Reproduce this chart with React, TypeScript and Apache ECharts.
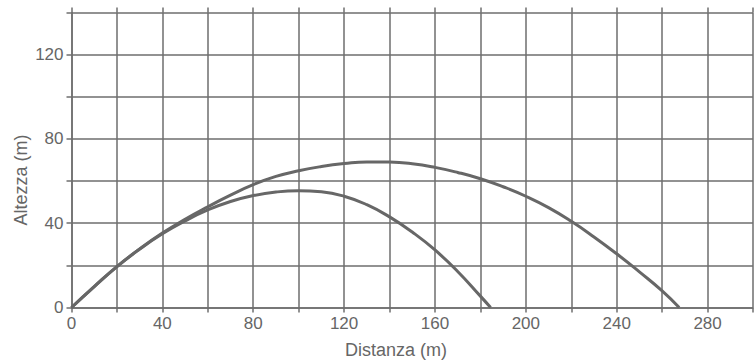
import React, { useEffect, useRef } from "react";
import * as echarts from "echarts";

// Traiettoria corta
const distanzaA = [0, 10, 20, 30, 40, 50, 60, 70, 80, 90, 100, 110, 120, 130, 140, 150, 160, 170, 180, 184.5];
const altezzaA = [0, 9.9, 19.4, 27.7, 35.0, 41.1, 46.3, 50.3, 53.1, 54.8, 55.4, 54.9, 52.8, 48.8, 43.0, 35.8, 27.3, 17.1, 5.4, 0];

// Traiettoria lunga
const distanzaB = [0, 10, 20, 30, 40, 50, 60, 70, 80, 90, 100, 110, 120, 130, 140, 150, 160, 170, 180, 190, 200, 210, 220, 230, 240, 250, 260, 267.5];
const altezzaB = [0, 9.9, 19.4, 27.8, 35.3, 41.9, 47.8, 53.3, 58.3, 62.2, 64.9, 66.9, 68.3, 69.1, 69.0, 68.2, 66.5, 64.1, 61.1, 57.3, 52.8, 47.4, 40.9, 33.5, 25.5, 16.9, 7.9, 0];

const xTickLabels = ["0", "40", "80", "120", "160", "200", "240", "280"];
const yTickLabels = ["0", "40", "80", "120"];

const xName = "Distanza (m)";
const yName = "Altezza (m)";

export default function App() {
  const ref = useRef<HTMLDivElement>(null);
  useEffect(() => {
    if (!ref.current) return;
    const chart = echarts.init(ref.current, undefined, { renderer: "svg" });
    const lineColor = "#6e6e6e";
    const textColor = "#666";
    const font = "'Liberation Sans', Arial, sans-serif";
    const pairs = (xs: number[], ys: number[]) => xs.map((x, i) => [x, ys[i]]);
    chart.setOption({
      animation: false,
      backgroundColor: "#ffffff",
      grid: { left: 71.5, right: -7, top: 12.5, bottom: 54.5, containLabel: false },
      xAxis: [
        {
          type: "value",
          min: 0,
          max: 300,
          interval: 20,
          position: "bottom",
          axisLine: { show: true, lineStyle: { color: lineColor, width: 1.5 } },
          axisTick: { show: true, length: 5, lineStyle: { color: lineColor, width: 1.5 } },
          axisLabel: {
            show: true,
            margin: 7,
            color: textColor,
            fontSize: 17,
            fontFamily: font,
            formatter: (v: number) => (xTickLabels.includes(String(v)) ? String(v) : ""),
          },
          splitLine: { show: true, lineStyle: { color: lineColor, width: 1.5 } },
        },
        {
          type: "value",
          min: 0,
          max: 300,
          interval: 20,
          position: "top",
          axisLine: { show: false },
          axisTick: { show: true, length: 5, lineStyle: { color: lineColor, width: 1.5 } },
          axisLabel: { show: false },
          splitLine: { show: false },
        },
      ],
      yAxis: {
        type: "value",
        min: 0,
        max: 140,
        interval: 20,
        axisLine: { show: true, lineStyle: { color: lineColor, width: 1.5 } },
        axisTick: { show: true, length: 5, lineStyle: { color: lineColor, width: 1.5 } },
        axisLabel: {
          show: true,
          margin: 8,
          color: textColor,
          fontSize: 17,
          fontFamily: font,
          formatter: (v: number) => (yTickLabels.includes(String(v)) ? String(v) : ""),
        },
        splitLine: { show: true, lineStyle: { color: lineColor, width: 1.5 } },
      },
      graphic: [
        {
          type: "text",
          x: 396,
          y: 350,
          style: {
            text: xName,
            fill: textColor,
            font: `18px ${font}`,
            align: "center",
            verticalAlign: "middle",
          },
        },
        {
          type: "text",
          x: 20.5,
          y: 180,
          rotation: Math.PI / 2,
          style: {
            text: yName,
            fill: textColor,
            font: `18px ${font}`,
            align: "center",
            verticalAlign: "middle",
          },
        },
      ],
      series: [
        {
          type: "line",
          data: pairs(distanzaA, altezzaA),
          smooth: true,
          showSymbol: false,
          lineStyle: { color: "#676767", width: 3 },
        },
        {
          type: "line",
          data: pairs(distanzaB, altezzaB),
          smooth: true,
          showSymbol: false,
          lineStyle: { color: "#676767", width: 3 },
        },
      ],
    });
    return () => chart.dispose();
  }, []);
  return <div ref={ref} style={{ width: 756, height: 362, position: "absolute", left: 0, top: 0 }} />;
}
